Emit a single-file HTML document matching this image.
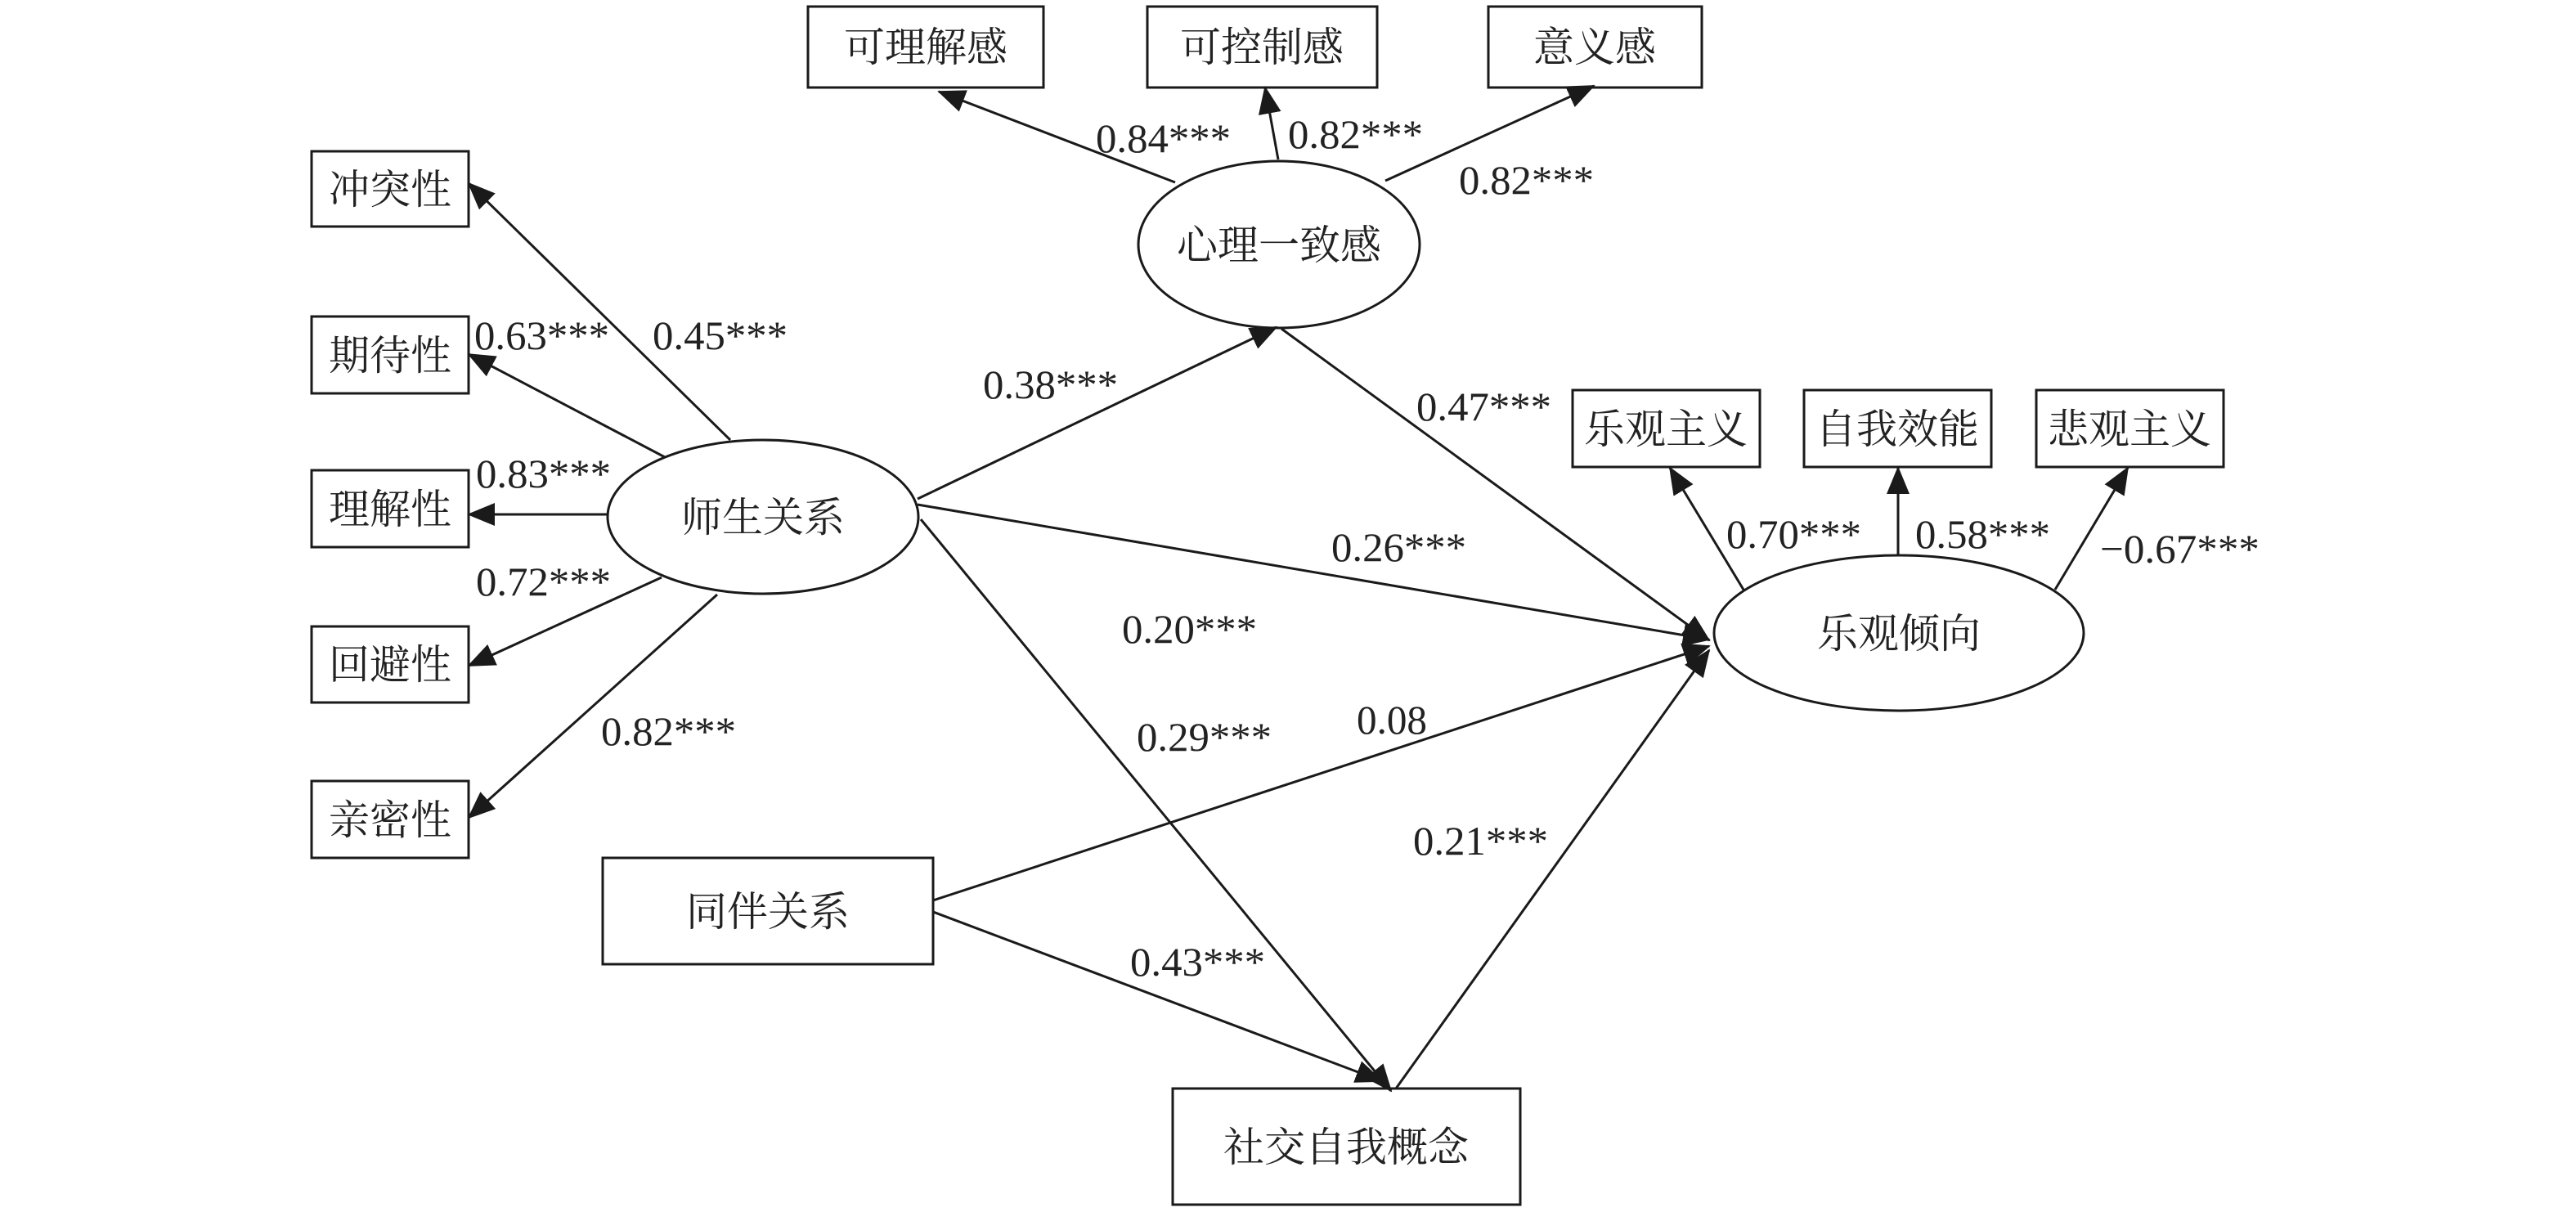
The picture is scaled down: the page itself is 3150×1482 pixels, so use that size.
<!DOCTYPE html>
<html><head><meta charset="utf-8"><style>
html,body{margin:0;padding:0;background:#fff;}
svg{display:block;}
.c{font-family:"Liberation Serif","Noto Serif CJK SC","Noto Sans CJK SC",serif;font-size:50px;fill:#222;}
.n{font-family:"Liberation Serif",serif;font-size:50px;fill:#222;}
</style></head><body>
<svg width="3150" height="1482" viewBox="0 0 3150 1482" xmlns="http://www.w3.org/2000/svg">
<defs>
<marker id="a" markerUnits="userSpaceOnUse" markerWidth="34" markerHeight="28" refX="32" refY="14" orient="auto">
<path d="M0,0 L34,14 L0,28 Z" fill="#1a1a1a"/>
</marker>
</defs>
<g fill="none" stroke="#1a1a1a" stroke-width="3">
<!-- boxes -->
<rect x="988" y="8" width="288" height="99"/>
<rect x="1403" y="8" width="281" height="99"/>
<rect x="1820" y="8" width="261" height="99"/>
<rect x="381" y="185" width="192" height="92"/>
<rect x="381" y="387" width="192" height="94"/>
<rect x="381" y="575" width="192" height="94"/>
<rect x="381" y="766" width="192" height="93"/>
<rect x="381" y="955" width="192" height="94"/>
<rect x="1923" y="477" width="229" height="94"/>
<rect x="2206" y="477" width="229" height="94"/>
<rect x="2490" y="477" width="229" height="94"/>
<rect x="737" y="1049" width="404" height="130"/>
<rect x="1434" y="1331" width="425" height="142"/>
<!-- ellipses -->
<ellipse cx="933" cy="632" rx="190" ry="94"/>
<ellipse cx="1564" cy="299" rx="172" ry="102"/>
<ellipse cx="2322" cy="774" rx="226" ry="95"/>
<!-- arrows -->
<g marker-end="url(#a)">
<line x1="893" y1="538" x2="573" y2="224"/>
<line x1="813" y1="559" x2="573" y2="433"/>
<line x1="743" y1="629" x2="573" y2="629"/>
<line x1="809" y1="706" x2="573" y2="814"/>
<line x1="877" y1="727" x2="573" y2="1000"/>
<line x1="1122" y1="610" x2="1561" y2="400"/>
<line x1="1437" y1="223" x2="1148" y2="112"/>
<line x1="1563" y1="195" x2="1547" y2="107"/>
<line x1="1694" y1="221" x2="1949" y2="105"/>
<line x1="1567" y1="402" x2="2090" y2="783"/>
<line x1="1122" y1="617" x2="2090" y2="782"/>
<line x1="1141" y1="1101" x2="2090" y2="790"/>
<line x1="1707" y1="1331" x2="2090" y2="795"/>
<line x1="1126" y1="635" x2="1701" y2="1334"/>
<line x1="1141" y1="1115" x2="1690" y2="1322"/>
<line x1="2132" y1="721" x2="2042" y2="572"/>
<line x1="2321" y1="679" x2="2321" y2="572"/>
<line x1="2513" y1="721" x2="2602" y2="572"/>
</g>
</g>
<!-- node text -->
<g class="c" text-anchor="middle">
<text x="1132" y="75">可理解感</text>
<text x="1543" y="75">可控制感</text>
<text x="1950" y="75">意义感</text>
<text x="477" y="249">冲突性</text>
<text x="477" y="452">期待性</text>
<text x="477" y="640">理解性</text>
<text x="477" y="830">回避性</text>
<text x="477" y="1020">亲密性</text>
<text x="2037" y="542">乐观主义</text>
<text x="2320" y="542">自我效能</text>
<text x="2604" y="542">悲观主义</text>
<text x="939" y="1132">同伴关系</text>
<text x="1646" y="1420">社交自我概念</text>
<text x="933" y="650">师生关系</text>
<text x="1564" y="317">心理一致感</text>
<text x="2322" y="792">乐观倾向</text>
</g>
<!-- labels -->
<g class="n">
<text x="1340" y="186" textLength="165" lengthAdjust="spacingAndGlyphs">0.84***</text>
<text x="1575" y="181" textLength="165" lengthAdjust="spacingAndGlyphs">0.82***</text>
<text x="1784" y="237" textLength="165" lengthAdjust="spacingAndGlyphs">0.82***</text>
<text x="580" y="427" textLength="165" lengthAdjust="spacingAndGlyphs">0.63***</text>
<text x="798" y="427" textLength="165" lengthAdjust="spacingAndGlyphs">0.45***</text>
<text x="1202" y="487" textLength="165" lengthAdjust="spacingAndGlyphs">0.38***</text>
<text x="582" y="596" textLength="165" lengthAdjust="spacingAndGlyphs">0.83***</text>
<text x="582" y="728" textLength="165" lengthAdjust="spacingAndGlyphs">0.72***</text>
<text x="735" y="911" textLength="165" lengthAdjust="spacingAndGlyphs">0.82***</text>
<text x="1372" y="786" textLength="165" lengthAdjust="spacingAndGlyphs">0.20***</text>
<text x="1390" y="918" textLength="165" lengthAdjust="spacingAndGlyphs">0.29***</text>
<text x="1732" y="514" textLength="165" lengthAdjust="spacingAndGlyphs">0.47***</text>
<text x="1628" y="686" textLength="165" lengthAdjust="spacingAndGlyphs">0.26***</text>
<text x="1659" y="897" textLength="86" lengthAdjust="spacingAndGlyphs">0.08</text>
<text x="1728" y="1045" textLength="165" lengthAdjust="spacingAndGlyphs">0.21***</text>
<text x="1382" y="1193" textLength="165" lengthAdjust="spacingAndGlyphs">0.43***</text>
<text x="2111" y="670" textLength="165" lengthAdjust="spacingAndGlyphs">0.70***</text>
<text x="2342" y="670" textLength="165" lengthAdjust="spacingAndGlyphs">0.58***</text>
<text x="2568" y="688" textLength="195" lengthAdjust="spacingAndGlyphs">−0.67***</text>
</g>
</svg>
</body></html>
